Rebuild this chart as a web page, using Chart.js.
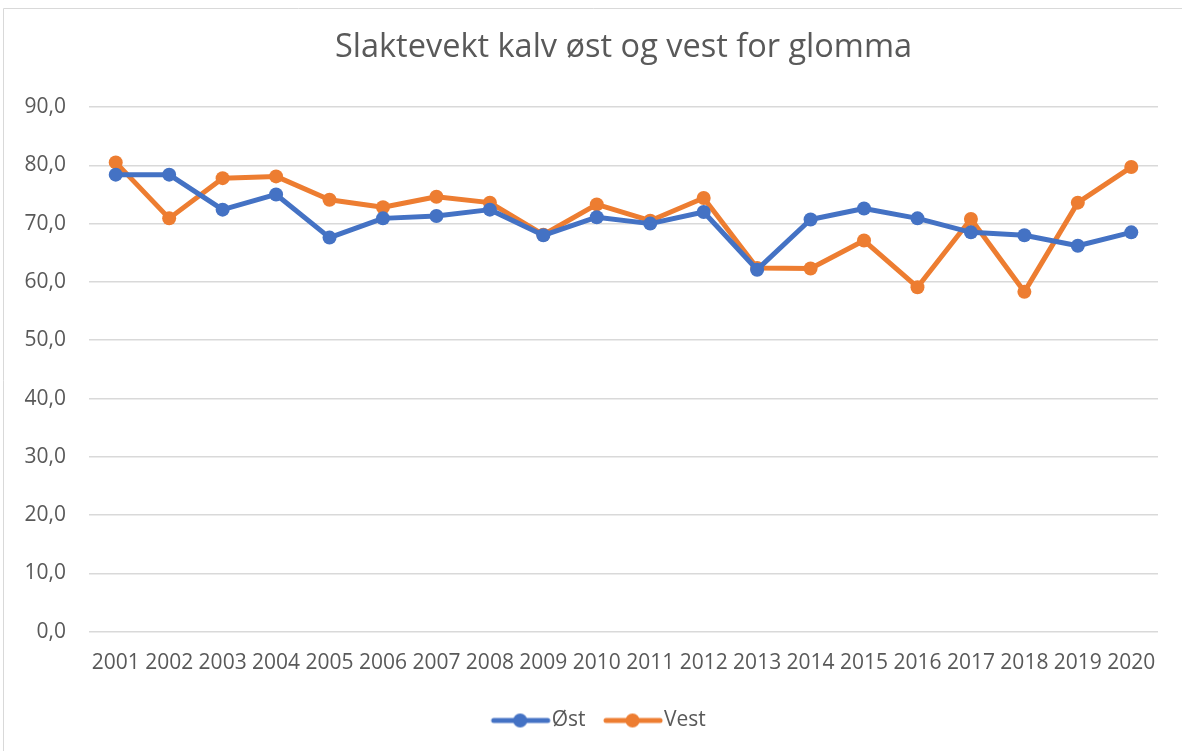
<!DOCTYPE html>
<html>
<head>
<meta charset="utf-8">
<script src="https://cdn.jsdelivr.net/npm/chart.js@4.4.1/dist/chart.umd.min.js"></script>
<style>
  html, body { margin: 0; padding: 0; background: #fff; }
  #wrap { position: relative; width: 1182px; height: 751px; }
</style>
</head>
<body>
<div id="wrap"><canvas id="c" width="1182" height="751"></canvas></div>
<script>
const years = ['2001','2002','2003','2004','2005','2006','2007','2008','2009','2010',
               '2011','2012','2013','2014','2015','2016','2017','2018','2019','2020'];
const ost  = [78.4, 78.4, 72.4, 75.0, 67.6, 70.9, 71.3, 72.4, 68.0, 71.1,
              70.0, 72.0, 62.1, 70.7, 72.6, 70.9, 68.5, 68.0, 66.2, 68.5];
const vest = [80.5, 70.9, 77.8, 78.1, 74.1, 72.8, 74.6, 73.6, 68.1, 73.3,
              70.5, 74.4, 62.4, 62.3, 67.1, 59.1, 70.8, 58.3, 73.6, 79.7];
const yTicks = { min: 0, max: 90, step: 10 };
const titleText = 'Slaktevekt kalv øst og vest for glomma';

const BLUE = '#4472C4', ORANGE = '#ED7D31', TXT = '#595959', GRID = '#D9D9D9';
const FONT = "'Open Sans', 'Liberation Sans', sans-serif";

function legendIcon(color) {
  const cv = document.createElement('canvas');
  cv.width = 80; cv.height = 16;
  const g = cv.getContext('2d');
  g.strokeStyle = color; g.lineWidth = 5; g.lineCap = 'round';
  g.beginPath(); g.moveTo(15, 8); g.lineTo(69, 8); g.stroke();
  g.fillStyle = color;
  g.beginPath(); g.arc(41.5, 8, 7, 0, Math.PI * 2); g.fill();
  return cv;
}

const borderPlugin = {
  id: 'outerBorder',
  beforeDraw(chart) {
    const ctx = chart.ctx;
    ctx.save();
    ctx.strokeStyle = GRID; ctx.lineWidth = 1;
    ctx.beginPath();
    ctx.moveTo(3.5, 760); ctx.lineTo(3.5, 8.5); ctx.lineTo(1190, 8.5);
    ctx.stroke();
    ctx.restore();
  },
  afterLayout(chart) {
    // centre title over the plot area, nudge legend like the reference
    const t = chart.titleBlock;
    if (t) { t.left = chart.chartArea.left; t.right = chart.chartArea.right; }
    const l = chart.legend;
    if (l) { l.left += 22; l.right += 22; }
  }
};

new Chart(document.getElementById('c'), {
  type: 'line',
  data: {
    labels: years,
    datasets: [
      { label: 'Øst', data: ost, borderColor: BLUE, backgroundColor: BLUE,
        borderWidth: 5, pointRadius: 7, pointHoverRadius: 7, pointBorderWidth: 0,
        tension: 0, borderJoinStyle: 'round', borderCapStyle: 'round' },
      { label: 'Vest', data: vest, borderColor: ORANGE, backgroundColor: ORANGE,
        borderWidth: 5, pointRadius: 7, pointHoverRadius: 7, pointBorderWidth: 0,
        tension: 0, borderJoinStyle: 'round', borderCapStyle: 'round' }
    ]
  },
  options: {
    responsive: false,
    animation: false,
    devicePixelRatio: 1,
    layout: { padding: { left: 0, right: 24, top: 0, bottom: 10 } },
    plugins: {
      title: {
        display: true, text: titleText, color: TXT,
        font: { family: FONT, size: 32.5, weight: 'normal' },
        padding: { top: 28, bottom: 40 }
      },
      legend: {
        position: 'bottom',
        labels: {
          color: TXT, font: { family: FONT, size: 21 },
          usePointStyle: true, pointStyleWidth: 45, boxHeight: 16, padding: 23,
          generateLabels(chart) {
            return chart.data.datasets.map((ds, i) => ({
              text: ds.label, fillStyle: ds.borderColor, strokeStyle: ds.borderColor,
              pointStyle: legendIcon(ds.borderColor), fontColor: TXT,
              datasetIndex: i, hidden: false, lineWidth: 0
            }));
          }
        }
      },
      tooltip: { enabled: false }
    },
    scales: {
      x: {
        offset: true,
        grid: { display: false },
        border: { display: false },
        ticks: { color: TXT, font: { family: FONT, size: 21 }, padding: 11,
                 maxRotation: 0, autoSkip: false }
      },
      y: {
        min: yTicks.min, max: yTicks.max,
        grid: { color: GRID, lineWidth: 1.5, drawTicks: false },
        border: { display: false },
        afterFit(scale) { scale.width = 89; },
        ticks: { stepSize: yTicks.step, color: TXT, padding: 23,
                 font: { family: FONT, size: 21 },
                 callback: v => v.toFixed(1).replace('.', ',') }
      }
    }
  },
  plugins: [borderPlugin]
});
</script>
</body>
</html>
